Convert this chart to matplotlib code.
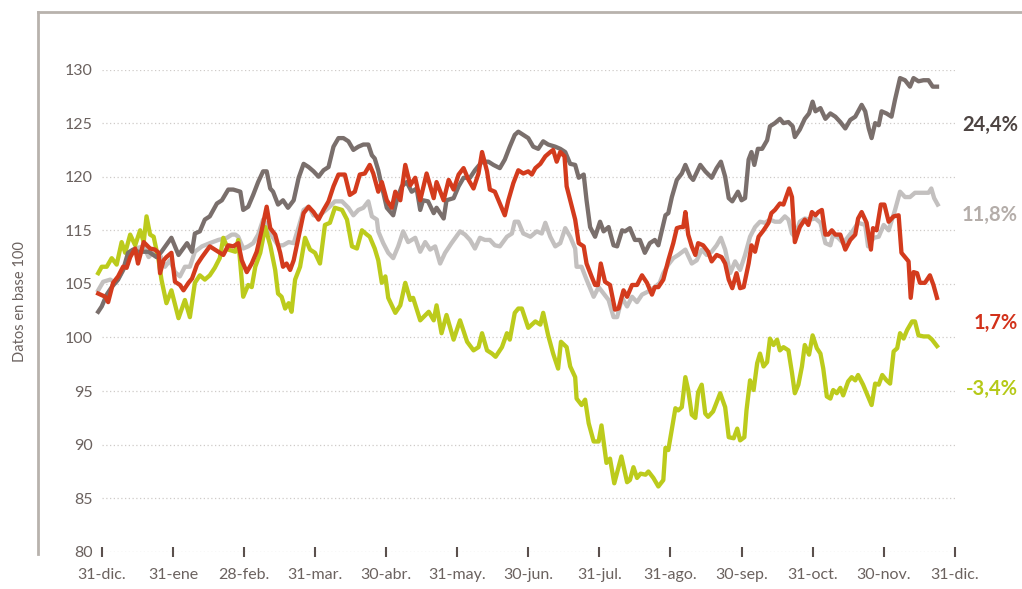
import matplotlib

matplotlib.use("Agg")
import matplotlib.pyplot as plt
from matplotlib.lines import Line2D

plt.rcParams["font.family"] = ["Lato", "DejaVu Sans"]

# month index (0 = 31-dic. previous year) and index value
MONTH_LABELS = ["31-dic.", "31-ene", "28-feb.", "31-mar.", "30-abr.", "31-may.", "30-jun.",
                "31-jul.", "31-ago.", "30-sep.", "31-oct.", "30-nov.", "31-dic."]
Y_TICKS = [80, 85, 90, 95, 100, 105, 110, 115, 120, 125]
Y_TICK_LABELS = ["80", "85", "90", "95", "100", "105", "115", "120", "125", "130"]

dark_x = [-0.05, 0.00, 0.07, 0.14, 0.23, 0.30, 0.37, 0.44, 0.51, 0.66, 0.77, 0.84, 0.98, 1.08, 1.20, 1.27,
          1.31, 1.38, 1.45, 1.52, 1.62, 1.69, 1.78, 1.85, 1.95, 1.99, 2.06, 2.13, 2.20, 2.27, 2.32, 2.37,
          2.41, 2.48, 2.55, 2.62, 2.70, 2.77, 2.84, 2.91, 2.98, 3.05, 3.12, 3.19, 3.26, 3.33, 3.40, 3.47,
          3.54, 3.61, 3.68, 3.75, 3.80, 3.84, 3.89, 3.94, 4.01, 4.10, 4.15, 4.22, 4.29, 4.36, 4.43, 4.48,
          4.52, 4.59, 4.67, 4.71, 4.81, 4.85, 4.95, 5.02, 5.09, 5.18, 5.25, 5.35, 5.44, 5.51, 5.60, 5.67,
          5.74, 5.81, 5.86, 5.93, 6.00, 6.07, 6.14, 6.21, 6.28, 6.38, 6.45, 6.52, 6.59, 6.66, 6.71, 6.78,
          6.82, 6.87, 6.94, 7.01, 7.06, 7.13, 7.20, 7.25, 7.32, 7.36, 7.43, 7.50, 7.57, 7.64, 7.71, 7.78,
          7.83, 7.88, 7.93, 7.97, 8.02, 8.09, 8.16, 8.21, 8.28, 8.32, 8.42, 8.49, 8.58, 8.65, 8.71, 8.77,
          8.82, 8.87, 8.95, 9.00, 9.05, 9.10, 9.14, 9.18, 9.23, 9.29, 9.36, 9.40, 9.47, 9.54, 9.59, 9.66,
          9.72, 9.75, 9.82, 9.89, 9.95, 10.00, 10.04, 10.11, 10.18, 10.25, 10.32, 10.39, 10.46, 10.53,
          10.60, 10.69, 10.74, 10.79, 10.83, 10.88, 10.93, 10.97, 11.04, 11.11, 11.16, 11.23, 11.30,
          11.37, 11.42, 11.49, 11.56, 11.63, 11.69, 11.75]
dark_y = [102.4, 102.9, 104.0, 104.7, 105.4, 106.3, 107.9, 108.2, 108.0, 108.0, 107.5, 108.0, 109.3, 107.7,
          108.8, 108.0, 109.7, 109.9, 111.0, 111.3, 112.5, 112.8, 113.8, 113.8, 113.6, 111.9, 112.2, 113.3,
          114.5, 115.5, 115.5, 113.9, 113.6, 112.4, 112.8, 112.1, 112.8, 114.9, 116.2, 115.9, 115.5, 115.0,
          115.6, 115.9, 117.8, 118.6, 118.6, 118.3, 117.5, 117.8, 118.0, 118.0, 117.0, 116.7, 115.6, 114.1,
          112.1, 111.4, 112.8, 114.1, 114.5, 113.6, 113.9, 111.9, 112.8, 112.7, 111.6, 112.1, 111.1, 112.8,
          113.0, 114.1, 114.9, 114.9, 115.6, 116.4, 116.4, 116.1, 115.8, 116.6, 117.8, 118.9, 119.2, 118.9,
          118.6, 117.8, 117.6, 118.3, 118.0, 117.8, 117.6, 117.3, 116.2, 116.1, 114.9, 115.2, 112.8, 110.3,
          109.4, 110.8, 109.9, 110.3, 108.6, 108.5, 110.0, 109.9, 110.2, 109.1, 109.1, 107.9, 108.8, 109.1,
          108.6, 110.0, 111.4, 111.6, 113.1, 114.7, 115.3, 116.1, 115.0, 114.7, 116.1, 115.5, 114.9, 115.8,
          116.4, 115.0, 113.0, 112.7, 113.6, 112.8, 113.0, 116.6, 117.3, 116.1, 117.6, 117.6, 118.4, 119.7,
          120.0, 120.4, 120.0, 120.1, 119.7, 118.7, 119.4, 120.4, 120.9, 122.0, 121.1, 121.4, 120.4, 120.9,
          120.6, 120.1, 119.5, 120.3, 120.6, 121.7, 121.1, 119.5, 118.6, 120.0, 119.8, 121.1, 120.9, 120.6,
          122.2, 124.2, 124.0, 123.4, 124.2, 123.9, 124.0, 124.0, 123.4, 123.4]

light_x = [-0.05, 0.02, 0.12, 0.19, 0.26, 0.33, 0.40, 0.47, 0.59, 0.66, 0.73, 0.82, 0.89, 0.96, 1.03, 1.10,
           1.17, 1.24, 1.31, 1.41, 1.52, 1.64, 1.76, 1.83, 1.88, 1.92, 1.99, 2.06, 2.13, 2.20, 2.27, 2.34,
           2.41, 2.48, 2.55, 2.63, 2.70, 2.77, 2.84, 2.91, 2.98, 3.05, 3.12, 3.19, 3.28, 3.38, 3.47, 3.54,
           3.61, 3.68, 3.75, 3.80, 3.87, 3.89, 3.96, 4.03, 4.10, 4.17, 4.24, 4.31, 4.41, 4.48, 4.55, 4.62,
           4.69, 4.76, 4.83, 4.92, 5.04, 5.11, 5.18, 5.25, 5.32, 5.39, 5.46, 5.53, 5.60, 5.70, 5.77, 5.81,
           5.86, 5.93, 6.03, 6.12, 6.19, 6.24, 6.31, 6.38, 6.45, 6.52, 6.59, 6.66, 6.68, 6.75, 6.82, 6.92,
           6.99, 7.06, 7.13, 7.20, 7.25, 7.32, 7.39, 7.46, 7.53, 7.60, 7.69, 7.78, 7.85, 7.90, 7.97, 8.04,
           8.11, 8.21, 8.30, 8.37, 8.44, 8.51, 8.58, 8.65, 8.71, 8.77, 8.84, 8.91, 8.98, 9.05, 9.12, 9.19,
           9.26, 9.33, 9.40, 9.47, 9.54, 9.61, 9.66, 9.71, 9.75, 9.82, 9.89, 9.96, 10.04, 10.11, 10.18,
           10.25, 10.29, 10.36, 10.43, 10.50, 10.57, 10.64, 10.74, 10.78, 10.86, 10.93, 11.00, 11.07,
           11.16, 11.23, 11.30, 11.37, 11.44, 11.54, 11.63, 11.67, 11.71, 11.76]
light_y = [104.4, 105.2, 105.4, 105.1, 105.8, 106.6, 108.0, 108.3, 108.5, 107.5, 108.0, 107.7, 106.6, 107.2,
           106.1, 105.7, 106.6, 106.6, 108.0, 108.5, 108.8, 109.1, 109.3, 109.6, 109.6, 109.4, 108.3, 108.5,
           108.8, 109.6, 111.0, 110.3, 109.3, 108.6, 108.6, 108.9, 108.8, 110.3, 111.9, 112.2, 111.4, 111.3,
           111.7, 112.1, 112.7, 112.7, 112.1, 111.4, 111.9, 112.1, 112.7, 111.3, 111.0, 109.9, 108.8, 107.9,
           107.4, 108.5, 109.9, 108.9, 109.3, 108.0, 108.9, 108.2, 108.5, 106.9, 107.9, 108.8, 109.9, 109.6,
           109.1, 108.3, 109.3, 109.1, 109.1, 108.6, 108.5, 109.4, 109.7, 110.8, 110.8, 109.7, 109.4, 109.9,
           109.7, 110.7, 109.4, 108.5, 108.8, 110.2, 109.4, 108.3, 106.6, 106.6, 105.4, 103.8, 104.7, 104.1,
           103.5, 101.9, 101.9, 103.7, 102.9, 103.8, 103.3, 104.0, 104.3, 104.7, 105.1, 106.0, 106.8, 107.4,
           107.7, 108.2, 106.9, 107.2, 108.2, 107.7, 108.0, 108.6, 109.3, 108.2, 106.0, 107.1, 106.3, 107.7,
           109.4, 110.3, 110.8, 110.7, 111.0, 110.8, 110.8, 111.3, 111.0, 109.7, 109.4, 110.8, 111.1, 111.0,
           111.1, 110.7, 108.8, 108.6, 109.6, 109.3, 108.8, 109.4, 110.0, 110.7, 110.5, 108.5, 109.3, 109.4,
           110.5, 110.0, 111.9, 113.6, 113.1, 113.1, 113.5, 113.5, 113.5, 113.9, 113.0, 112.4]

red_x = [-0.05, 0.05, 0.09, 0.16, 0.23, 0.30, 0.35, 0.40, 0.47, 0.51, 0.59, 0.68, 0.75, 0.80, 0.82, 0.87,
         0.91, 0.98, 1.03, 1.10, 1.15, 1.22, 1.27, 1.34, 1.41, 1.52, 1.64, 1.71, 1.78, 1.85, 1.92, 1.97,
         2.04, 2.11, 2.18, 2.25, 2.32, 2.37, 2.44, 2.51, 2.55, 2.60, 2.65, 2.70, 2.77, 2.84, 2.91, 2.98,
         3.05, 3.12, 3.19, 3.26, 3.33, 3.42, 3.49, 3.56, 3.63, 3.70, 3.77, 3.82, 3.89, 3.94, 4.01, 4.08,
         4.13, 4.20, 4.27, 4.34, 4.41, 4.48, 4.57, 4.67, 4.71, 4.81, 4.88, 4.95, 5.02, 5.09, 5.16, 5.23,
         5.30, 5.35, 5.42, 5.46, 5.53, 5.60, 5.67, 5.72, 5.79, 5.86, 5.93, 6.00, 6.05, 6.10, 6.17, 6.24,
         6.31, 6.35, 6.40, 6.45, 6.51, 6.54, 6.59, 6.66, 6.71, 6.78, 6.82, 6.89, 6.94, 6.98, 7.02, 7.08,
         7.15, 7.22, 7.27, 7.34, 7.39, 7.46, 7.53, 7.60, 7.67, 7.74, 7.78, 7.83, 7.90, 7.97, 8.04, 8.09,
         8.14, 8.18, 8.21, 8.25, 8.30, 8.35, 8.39, 8.46, 8.53, 8.58, 8.65, 8.72, 8.77, 8.82, 8.87, 8.93,
         8.98, 9.03, 9.10, 9.14, 9.19, 9.24, 9.31, 9.38, 9.42, 9.47, 9.54, 9.59, 9.67, 9.71, 9.75, 9.82,
         9.89, 9.94, 9.99, 10.04, 10.08, 10.13, 10.18, 10.22, 10.27, 10.32, 10.39, 10.46, 10.53, 10.60,
         10.64, 10.69, 10.76, 10.82, 10.85, 10.90, 10.96, 11.01, 11.07, 11.14, 11.21, 11.25, 11.30, 11.35,
         11.38, 11.42, 11.47, 11.51, 11.58, 11.65, 11.70, 11.75]
red_y = [104.1, 103.8, 103.3, 105.1, 105.7, 106.6, 106.5, 107.5, 108.3, 106.9, 108.9, 108.3, 108.2, 107.9,
         106.0, 107.2, 107.5, 107.9, 105.2, 104.9, 104.4, 105.1, 105.5, 106.8, 107.5, 108.5, 108.0, 107.7,
         108.6, 108.5, 108.8, 107.2, 106.1, 106.9, 108.0, 110.0, 112.2, 110.2, 109.6, 107.9, 106.6, 106.9,
         106.3, 107.2, 109.4, 111.6, 112.2, 111.7, 111.0, 111.9, 112.7, 114.1, 115.2, 115.2, 113.3, 113.6,
         115.2, 115.3, 116.1, 115.3, 113.6, 114.5, 112.8, 112.1, 113.6, 112.8, 116.1, 114.2, 114.9, 112.8,
         115.3, 113.0, 114.5, 112.8, 114.7, 113.8, 115.2, 115.8, 114.7, 113.9, 115.3, 117.3, 115.5, 113.8,
         113.6, 112.5, 111.4, 112.8, 114.4, 115.6, 115.3, 115.5, 115.2, 115.8, 116.2, 116.9, 117.3, 117.5,
         116.4, 117.3, 116.9, 114.1, 112.8, 111.0, 108.8, 108.5, 106.9, 105.7, 104.9, 104.9, 106.9, 105.2,
         104.9, 102.6, 102.7, 104.4, 103.8, 104.9, 104.9, 105.8, 105.1, 104.0, 104.7, 104.7, 105.4, 107.2,
         108.8, 110.2, 110.3, 110.3, 111.7, 109.6, 108.5, 107.7, 108.8, 108.6, 108.0, 107.1, 107.7, 107.5,
         106.9, 105.4, 104.6, 106.0, 104.6, 104.7, 106.9, 108.6, 108.0, 109.4, 110.0, 110.7, 111.6, 111.9,
         112.5, 112.4, 113.9, 113.1, 108.9, 110.3, 111.0, 110.5, 111.7, 111.4, 111.7, 111.9, 109.6, 109.6,
         110.0, 109.6, 109.6, 108.2, 109.1, 109.6, 111.1, 111.7, 110.7, 108.2, 110.2, 110.0, 112.4, 112.4,
         110.8, 111.3, 111.4, 107.9, 107.5, 107.1, 103.7, 106.1, 106.0, 105.1, 105.1, 105.8, 104.9, 103.7]

green_x = [-0.05, 0.00, 0.07, 0.14, 0.21, 0.28, 0.33, 0.40, 0.47, 0.54, 0.59, 0.63, 0.68, 0.73, 0.80, 0.84,
           0.91, 0.98, 1.08, 1.17, 1.24, 1.31, 1.38, 1.45, 1.52, 1.59, 1.66, 1.71, 1.78, 1.88, 1.92, 1.99,
           2.06, 2.11, 2.16, 2.23, 2.30, 2.37, 2.44, 2.48, 2.53, 2.58, 2.63, 2.67, 2.72, 2.79, 2.86, 2.93,
           3.00, 3.07, 3.14, 3.21, 3.28, 3.38, 3.45, 3.52, 3.59, 3.66, 3.73, 3.77, 3.84, 3.89, 3.94, 3.99,
           4.03, 4.13, 4.20, 4.27, 4.34, 4.38, 4.48, 4.60, 4.67, 4.71, 4.78, 4.85, 4.95, 5.04, 5.14, 5.23,
           5.30, 5.35, 5.42, 5.49, 5.54, 5.63, 5.70, 5.74, 5.81, 5.86, 5.91, 6.00, 6.10, 6.17, 6.21, 6.28,
           6.35, 6.42, 6.46, 6.54, 6.59, 6.66, 6.68, 6.75, 6.80, 6.85, 6.92, 6.99, 7.03, 7.10, 7.15, 7.21,
           7.31, 7.39, 7.43, 7.48, 7.53, 7.58, 7.65, 7.69, 7.76, 7.83, 7.90, 7.93, 7.97, 8.07, 8.11, 8.16,
           8.21, 8.25, 8.30, 8.35, 8.39, 8.44, 8.49, 8.53, 8.60, 8.70, 8.77, 8.82, 8.89, 8.94, 8.98, 9.04,
           9.07, 9.12, 9.17, 9.22, 9.26, 9.31, 9.36, 9.40, 9.45, 9.50, 9.54, 9.59, 9.66, 9.71, 9.75, 9.80,
           9.85, 9.89, 9.95, 10.00, 10.06, 10.11, 10.15, 10.20, 10.25, 10.29, 10.34, 10.39, 10.43, 10.50,
           10.55, 10.60, 10.64, 10.71, 10.76, 10.83, 10.88, 10.93, 10.98, 11.04, 11.09, 11.14, 11.19,
           11.23, 11.28, 11.33, 11.40, 11.44, 11.49, 11.56, 11.63, 11.68, 11.75]
green_y = [106.0, 106.6, 106.6, 107.4, 106.8, 108.9, 107.9, 109.6, 108.6, 110.0, 108.9, 111.3, 109.6, 109.4,
           107.2, 105.4, 103.2, 104.4, 101.8, 103.5, 101.9, 105.1, 105.8, 105.4, 105.8, 106.5, 107.4, 109.3,
           108.2, 108.0, 109.1, 103.8, 104.9, 104.7, 106.6, 107.9, 110.3, 108.6, 106.3, 104.1, 103.8, 102.7,
           103.2, 102.4, 105.4, 106.6, 109.3, 108.2, 107.9, 106.9, 110.5, 110.7, 112.1, 111.9, 111.0, 108.5,
           108.3, 110.0, 109.6, 109.4, 108.3, 107.2, 105.1, 105.7, 103.7, 102.3, 103.0, 105.1, 103.5, 103.7,
           101.6, 102.4, 101.6, 103.0, 100.4, 102.1, 99.8, 101.6, 99.6, 98.8, 99.1, 100.4, 98.8, 98.5, 98.2,
           99.1, 100.4, 99.8, 102.3, 102.7, 102.7, 100.9, 101.5, 101.2, 102.3, 100.2, 98.5, 97.1, 99.6, 99.1,
           97.3, 96.3, 94.3, 93.7, 94.2, 92.0, 90.3, 90.3, 91.8, 88.3, 88.7, 86.4, 88.9, 86.5, 86.7, 87.9,
           86.9, 87.3, 87.2, 87.5, 86.9, 86.1, 86.7, 89.7, 89.5, 93.4, 93.2, 93.5, 96.3, 95.1, 92.8, 92.5,
           94.9, 95.6, 92.9, 92.6, 93.1, 94.8, 93.5, 90.7, 90.6, 91.5, 90.4, 90.7, 93.2, 96.0, 95.1, 97.6,
           98.5, 97.3, 97.7, 99.9, 99.3, 99.8, 98.8, 99.1, 98.8, 96.7, 94.8, 95.6, 97.3, 99.3, 98.4, 100.2,
           99.0, 98.5, 97.1, 94.5, 94.3, 95.1, 94.8, 95.3, 94.6, 95.9, 96.3, 96.0, 96.5, 95.6, 94.8, 93.7,
           95.7, 95.6, 96.5, 96.0, 95.7, 98.7, 99.0, 100.4, 99.9, 100.7, 101.5, 101.5, 100.2, 100.1, 100.1,
           99.8, 99.2]

END_LABELS = ["24,4%", "11,8%", "1,7%", "-3,4%"]

DARK = "#7a6f6c"
LIGHT = "#c3c0bf"
RED = "#d33b1d"
GREEN = "#bccb1c"
TEXT = "#6b625f"

fig = plt.figure(figsize=(10.22, 5.89), dpi=100)
ax = fig.add_axes([0.0926, 0.063, 0.8451, 0.819])

ax.hlines(Y_TICKS, 0, 12, colors="#cfcbc8", linestyles=(0, (1, 2)), linewidth=0.9, zorder=0)

ax.plot(light_x, light_y, color=LIGHT, linewidth=3.1, solid_joinstyle="round", zorder=2)
ax.plot(green_x, green_y, color=GREEN, linewidth=3.1, solid_joinstyle="round", zorder=3)
ax.plot(dark_x, dark_y, color=DARK, linewidth=3.1, solid_joinstyle="round", zorder=4)
ax.plot(red_x, red_y, color=RED, linewidth=3.1, solid_joinstyle="round", zorder=5)

ax.set_xlim(-0.1, 12.05)
ax.set_ylim(80, 125)
ax.set_xticks(range(len(MONTH_LABELS)))
ax.set_xticklabels(MONTH_LABELS)
ax.set_yticks(Y_TICKS)
ax.set_yticklabels(Y_TICK_LABELS)
ax.tick_params(axis="x", direction="inout", length=6.5, width=1.5, color="#5b504d",
               labelsize=11.5, labelcolor=TEXT, pad=8)
ax.tick_params(axis="y", length=0, labelsize=11.5, labelcolor=TEXT, pad=1.5)
for spine in ax.spines.values():
    spine.set_visible(False)

# outer frame (top and left rule)
frame_color = "#b8b2ad"
fig.add_artist(Line2D([38 / 1022, 1.0], [1 - 12 / 589, 1 - 12 / 589], color=frame_color, linewidth=2))
fig.add_artist(Line2D([38 / 1022, 38 / 1022], [1 - 12 / 589, 1 - 554 / 589], color=frame_color, linewidth=2))

fig.text(20 / 1022, 1 - 302 / 589, "Datos en base 100", rotation=90, ha="center", va="center",
         fontsize=10.5, color=TEXT)

end_colors = ["#4d4442", "#b4ada9", "#d2311a", "#b5c918"]
end_pos = [125, 215, 323, 389]
for label, color, ypx in zip(END_LABELS, end_colors, end_pos):
    fig.text(1018 / 1022, 1 - ypx / 589, label, ha="right", va="center", fontsize=14.5,
             fontweight="bold", color=color)

fig.savefig("out.png", dpi=100, facecolor="white")
